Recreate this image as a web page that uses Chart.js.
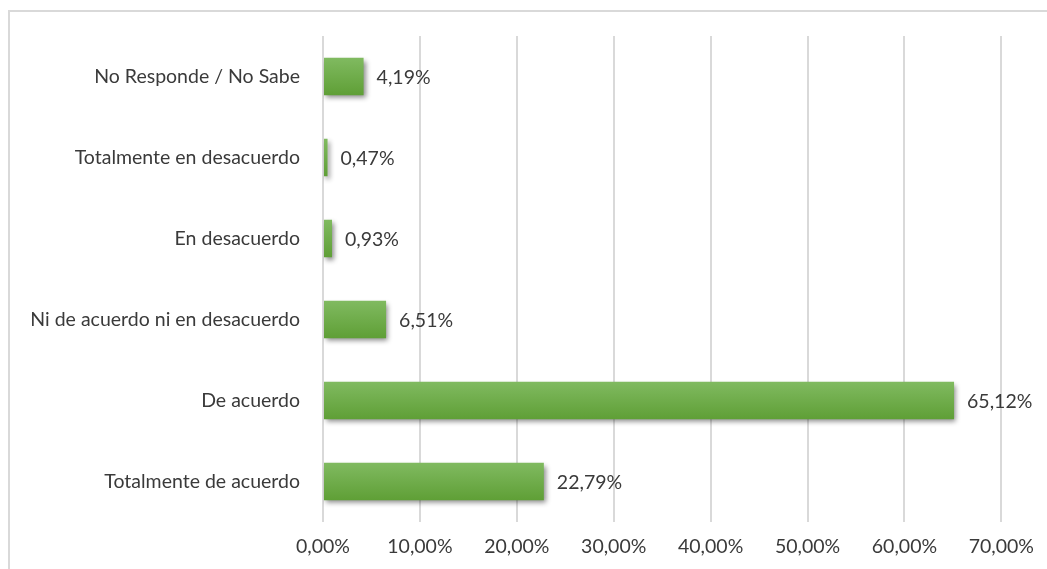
<!DOCTYPE html>
<html>
<head>
<meta charset="utf-8">
<script src="https://cdn.jsdelivr.net/npm/chart.js@4/dist/chart.umd.min.js"></script>
<style>
  html, body { margin: 0; padding: 0; background: #fff; overflow: hidden; }
  #marco {
    position: absolute; left: 8px; top: 10px; width: 1100px; height: 620px;
    border-top: 2px solid #d9d9d9; border-left: 2px solid #d9d9d9;
  }
  #lienzo { position: absolute; left: 0; top: 0; }
</style>
</head>
<body>
<div id="marco"></div>
<canvas id="lienzo" width="1047" height="569"></canvas>
<script>
// datos (de arriba hacia abajo)
const categorias = [
  'No Responde / No Sabe',
  'Totalmente en desacuerdo',
  'En desacuerdo',
  'Ni de acuerdo ni en desacuerdo',
  'De acuerdo',
  'Totalmente de acuerdo'
];
const porcentajes = [4.19, 0.47, 0.93, 6.51, 65.12, 22.79];
const ticksEjeX = [0, 10, 20, 30, 40, 50, 60, 70];

const fuente = { family: 'Lato', size: 19.5 };
const colorTexto = '#3a3a3a';
const grosorBarra = 0.46;

function formatoPct(v) {
  return Number(v).toFixed(2).replace('.', ',') + '%';
}

// sombra + degradado vertical en cada barra
const estiloBarras = {
  id: 'estiloBarras',
  beforeDatasetDraw(chart) {
    const ctx = chart.ctx;
    const meta = chart.getDatasetMeta(0);
    meta.data.forEach(barra => {
      const medio = barra.height / 2;
      if (!isFinite(barra.y) || !isFinite(medio)) return;
      const g = ctx.createLinearGradient(0, barra.y - medio, 0, barra.y + medio);
      g.addColorStop(0, '#80ba60');
      g.addColorStop(1, '#5f9f36');
      barra.options.backgroundColor = g;
    });
    ctx.save();
    ctx.shadowColor = 'rgba(0,0,0,0.45)';
    ctx.shadowBlur = 5;
    ctx.shadowOffsetX = 2;
    ctx.shadowOffsetY = 3;
  },
  afterDatasetDraw(chart) {
    chart.ctx.restore();
  }
};

const etiquetasDatos = {
  id: 'etiquetasDatos',
  afterDatasetsDraw(chart) {
    const ctx = chart.ctx;
    const meta = chart.getDatasetMeta(0);
    ctx.save();
    ctx.font = fuente.size + 'px ' + fuente.family;
    ctx.fillStyle = colorTexto;
    ctx.textAlign = 'left';
    ctx.textBaseline = 'middle';
    meta.data.forEach((barra, i) => {
      ctx.fillText(formatoPct(porcentajes[i]), barra.x + 13, barra.y + 1);
    });
    ctx.restore();
  }
};

const ctx = document.getElementById('lienzo').getContext('2d');
const chart = new Chart(ctx, {
  type: 'bar',
  data: {
    labels: categorias,
    datasets: [{
      data: porcentajes,
      // funcion para que cada barra tenga sus propias opciones
      backgroundColor: c => '#70ad47',
      borderWidth: 0,
      barPercentage: grosorBarra,
      categoryPercentage: 1
    }]
  },
  options: {
    indexAxis: 'y',
    responsive: false,
    animation: false,
    layout: { padding: { top: 36, right: 44, bottom: 0, left: 0 } },
    plugins: {
      legend: { display: false },
      tooltip: { enabled: false }
    },
    scales: {
      x: {
        min: 0,
        max: 70,
        afterBuildTicks(scale) {
          scale.ticks = ticksEjeX.map(v => ({ value: v }));
        },
        afterFit(scale) { scale.height = 47; },
        grid: { color: '#d9d9d9', lineWidth: 2, drawTicks: false },
        border: { display: false },
        ticks: {
          color: colorTexto,
          font: fuente,
          padding: 13,
          callback: v => formatoPct(v)
        }
      },
      y: {
        afterFit(scale) { scale.width = 323; },
        grid: { display: false },
        border: { display: false },
        ticks: { color: colorTexto, font: fuente, padding: 15 }
      }
    }
  },
  plugins: [estiloBarras, etiquetasDatos]
});
</script>
</body>
</html>
